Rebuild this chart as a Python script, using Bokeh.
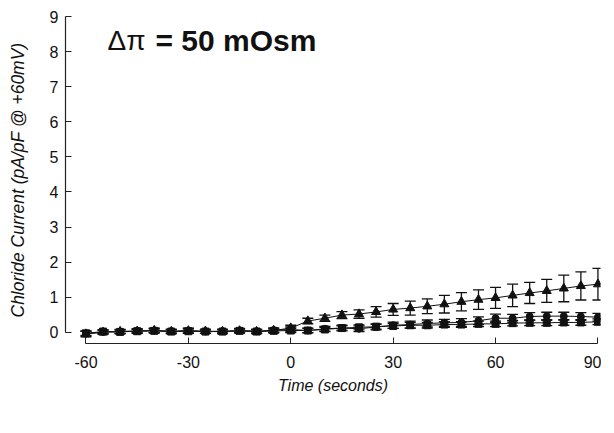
from bokeh.plotting import figure
from bokeh.models import Range1d, ColumnDataSource, Whisker, TeeHead, Label, FixedTicker
from bokeh.embed import file_html
from bokeh.resources import INLINE

# ---- data ----
time_s = [-60, -55, -50, -45, -40, -35, -30, -25, -20, -15, -10, -5,
          0, 5, 10, 15, 20, 25, 30, 35, 40, 45, 50, 55, 60, 65, 70, 75, 80, 85, 90]

tri_mean = [-0.05, 0.00, 0.02, 0.03, 0.05, 0.02, 0.04, 0.03, 0.02, 0.04, 0.02, 0.05,
            0.12, 0.32, 0.40, 0.49, 0.52, 0.58, 0.65, 0.69, 0.74, 0.80, 0.87, 0.93,
            0.98, 1.05, 1.12, 1.18, 1.25, 1.32, 1.37]
tri_sem = [0.08, 0.06, 0.06, 0.06, 0.07, 0.06, 0.07, 0.06, 0.06, 0.06, 0.06, 0.07,
           0.08, 0.08, 0.09, 0.10, 0.12, 0.15, 0.17, 0.20, 0.21, 0.25, 0.26, 0.28,
           0.30, 0.32, 0.30, 0.33, 0.38, 0.40, 0.45]

circ_mean = [-0.04, 0.01, 0.02, 0.04, 0.05, 0.03, 0.05, 0.02, 0.03, 0.05, 0.03, 0.06,
             0.08, 0.05, 0.10, 0.12, 0.10, 0.15, 0.20, 0.22, 0.25, 0.27, 0.28, 0.33,
             0.40, 0.40, 0.45, 0.46, 0.46, 0.45, 0.43]
circ_sem = [0.07, 0.05, 0.05, 0.06, 0.06, 0.05, 0.07, 0.05, 0.05, 0.06, 0.05, 0.06,
            0.07, 0.07, 0.07, 0.08, 0.08, 0.08, 0.09, 0.10, 0.10, 0.10, 0.11, 0.11,
            0.12, 0.11, 0.11, 0.11, 0.11, 0.11, 0.11]

sq_mean = [-0.03, 0.02, 0.01, 0.03, 0.04, 0.02, 0.03, 0.02, 0.02, 0.04, 0.02, 0.04,
           0.05, 0.05, 0.08, 0.12, 0.14, 0.16, 0.18, 0.20, 0.20, 0.22, 0.22, 0.24,
           0.24, 0.26, 0.27, 0.27, 0.28, 0.28, 0.30]
sq_sem = [0.06, 0.05, 0.05, 0.05, 0.05, 0.05, 0.06, 0.05, 0.05, 0.05, 0.05, 0.05,
          0.06, 0.06, 0.06, 0.06, 0.07, 0.07, 0.07, 0.08, 0.08, 0.08, 0.08, 0.08,
          0.08, 0.08, 0.08, 0.08, 0.08, 0.08, 0.08]

x_ticks = [-60, -30, 0, 30, 60, 90]
x_tick_labels = ["-60", "-30", "0", "30", "60", "90"]
y_ticks = [0, 1, 2, 3, 4, 5, 6, 7, 8, 9]

title_sym = "\u0394\u03c0"
title_rest = "= 50 mOsm"
x_label = "Time (seconds)"
y_label = "Chloride Current (pA/pF @ +60mV)"

FONT = "Liberation Sans"

p = figure(output_backend="svg", toolbar_location=None,
           frame_width=535, frame_height=327,
           min_border_left=65, min_border_right=1, min_border_top=16, min_border_bottom=68,
           x_range=Range1d(-66, 90.75), y_range=Range1d(-0.32, 9.0))
p.outline_line_color = None
p.grid.visible = False
p.background_fill_color = "white"

for ax in (p.xaxis[0], p.yaxis[0]):
    ax.axis_line_color = "#222222"
    ax.axis_line_width = 1.2
    ax.major_tick_in = 6
    ax.major_tick_out = 0
    ax.minor_tick_line_color = None
    ax.major_tick_line_color = "#222222"
    ax.major_label_text_font = FONT
    ax.major_label_text_font_size = "16px"
    ax.major_label_text_color = "#111111"
    ax.axis_label_text_font = FONT
    ax.axis_label_text_font_style = "italic"
    ax.axis_label_text_font_size = "16px"
    ax.axis_label_text_color = "#111111"

p.xaxis.ticker = FixedTicker(ticks=x_ticks)
p.xaxis.major_label_overrides = {t: s for t, s in zip(x_ticks, x_tick_labels)}
p.yaxis.ticker = FixedTicker(ticks=y_ticks)
p.xaxis.bounds = (-60, 90)
p.yaxis.bounds = (0, 9)
p.xaxis.axis_label = x_label
p.yaxis.axis_label = y_label
p.yaxis.axis_label_text_font_size = "17.5px"
p.xaxis.major_label_standoff = 12
p.yaxis.major_label_standoff = 7
p.xaxis.axis_label_standoff = 6
p.yaxis.axis_label_standoff = 19

series = [
    (sq_mean, sq_sem, "square", 7),
    (circ_mean, circ_sem, "circle", 7),
    (tri_mean, tri_sem, "triangle", 9),
]
for mean, sem, marker, size in series:
    src = ColumnDataSource(dict(
        t=time_s, m=mean,
        up=[a + b for a, b in zip(mean, sem)],
        lo=[a - b for a, b in zip(mean, sem)],
    ))
    w = Whisker(source=src, base="t", upper="up", lower="lo",
                line_color="#111111", line_width=1.3,
                upper_head=TeeHead(size=11, line_color="#111111", line_width=1.3),
                lower_head=TeeHead(size=11, line_color="#111111", line_width=1.3))
    p.add_layout(w)
    p.line("t", "m", source=src, line_color="#111111", line_width=1)
    p.scatter("t", "m", source=src, marker=marker, size=size,
              fill_color="#111111", line_color="#111111")

p.add_layout(Label(x=42, y=303, x_units="screen", y_units="screen",
                   text=title_sym, text_font=FONT, text_font_size="28px",
                   text_baseline="middle", text_color="#111111"))
p.add_layout(Label(x=90, y=303, x_units="screen", y_units="screen",
                   text=title_rest, text_font=FONT, text_font_size="30px",
                   text_font_style="bold", text_baseline="middle", text_color="#111111"))

open("out.html", "w").write(file_html(p, INLINE))
